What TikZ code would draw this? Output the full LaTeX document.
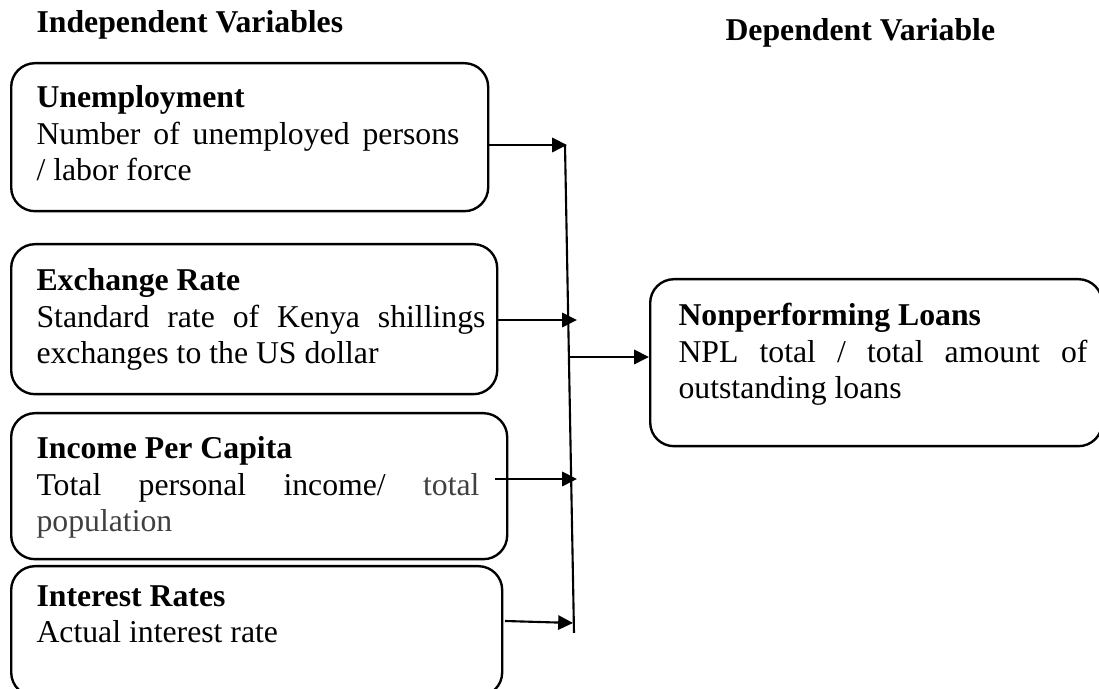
\documentclass[tikz,border=0pt]{standalone}
\usepackage{fontspec}
\setmainfont{Liberation Serif}
\usepackage{xcolor}
\usetikzlibrary{arrows.meta}
\newlength{\pxunit}
\setlength{\pxunit}{0.378pt}
\definecolor{softgray}{HTML}{404040}
\tikzstyle{link} = [draw, line width=0.8pt, -{Triangle[length=5.6pt,width=5.4pt]}]
\tikzstyle{bus} = [draw, line width=0.8pt]
\tikzstyle{varbox} = [draw, line width=0.9pt, rounded corners=9pt, inner sep=0pt, anchor=north west]
\tikzstyle{vartext} = [inner sep=0pt, anchor=north west, align=left, font=\fontsize{12}{13.8}\selectfont]
\tikzstyle{heading} = [inner sep=0pt, anchor=base west, font=\fontsize{12}{14}\selectfont\bfseries]

\begin{document}
\begin{tikzpicture}[x=0.378pt, y=-0.378pt]
                \clip (0,0) rectangle (1099,689);
                \node[heading] (indep) at (36,33) {Independent Variables};
                \node[heading] (dep) at (725,41) {Dependent Variable};
                \node[varbox, minimum width=477\pxunit, minimum height=148\pxunit] (unemp) at (10,62) {};
                \node[varbox, minimum width=486\pxunit, minimum height=150\pxunit] (exch) at (10,243) {};
                \node[varbox, minimum width=496\pxunit, minimum height=146\pxunit] (income) at (10,412) {};
                \node[varbox, minimum width=491\pxunit, minimum height=130\pxunit] (interest) at (10,565) {};
                \node[varbox, minimum width=452\pxunit, minimum height=167\pxunit] (npl) at (649,278) {};
                \node[vartext] (unempT) at (36,85) {\textbf{Unemployment}\\
                    \makebox[423\pxunit][s]{Number of unemployed persons}\\
                    / labor force};
                \node[vartext] (exchT) at (36,268) {\textbf{Exchange Rate}\\
                    \makebox[449\pxunit][s]{Standard rate of Kenya shillings}\\
                    exchanges to the US dollar};
                \node[vartext] (incomeT) at (36,436) {\textbf{Income Per Capita}\\
                    \makebox[443\pxunit][s]{Total personal income/ \textcolor{softgray}{total}}\\
                    \textcolor{softgray}{population}};
                \node[vartext] (interestT) at (36,585) {\textbf{Interest Rates}\\
                    Actual interest rate};
                \node[vartext] (nplT) at (678,303) {\textbf{Nonperforming Loans}\\
                    \makebox[409\pxunit][s]{NPL total / total amount of}\\
                    outstanding loans};
                \coordinate (bustop) at (565,145);
                \coordinate (busbot) at (574,633);
                \coordinate (in1) at (567,145);
                \coordinate (in2) at (577,320);
                \coordinate (in3) at (577,479);
                \coordinate (in4) at (573,623);
                \coordinate (from3) at (495,479);
                \coordinate (from4) at (505,621);
                \coordinate (out) at (569,357);
                \path [bus] (bustop) -- (busbot);
                \path [link] (unemp.east |- in1) -- (in1);
                \path [link] (exch.east |- in2) -- (in2);
                \path [link] (from3) -- (in3);
                \path [link] (from4) -- (in4);
                \path [link] (out) -- (npl.west |- out);
            \end{tikzpicture}
\end{document}
